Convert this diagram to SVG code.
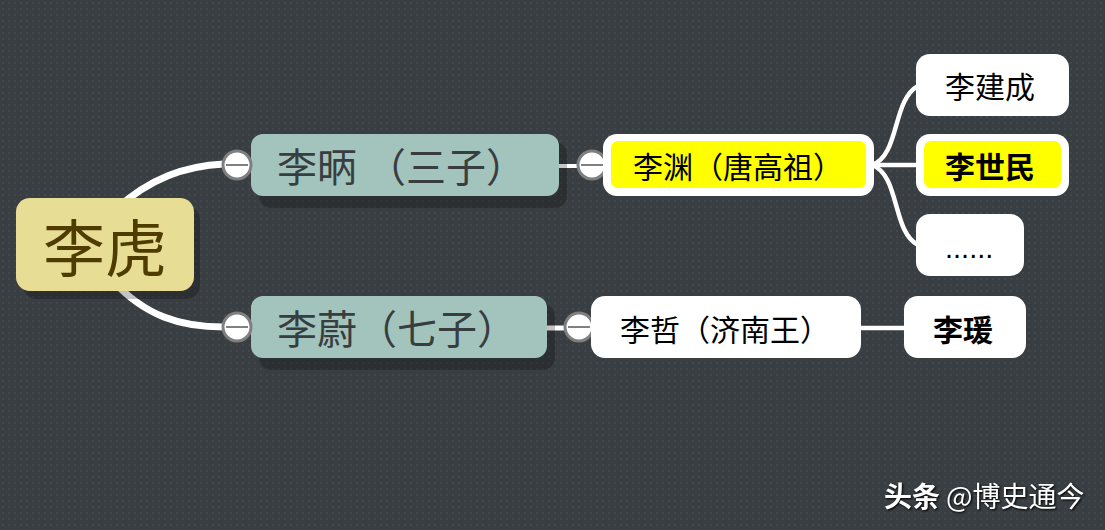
<svg xmlns="http://www.w3.org/2000/svg" width="1105" height="530" viewBox="0 0 1105 530">
<style>
text{font-family:"Noto Sans CJK SC","Noto Sans",sans-serif}
.conn{fill:none;stroke:#fff;stroke-linecap:butt}
.shadow{fill:#000;opacity:.23}
.teal{fill:#a2c4bd}
.white{fill:#fff}
.tt{fill:#383d40;font-size:40px}
.bt{fill:#000;font-size:30px}
.b{font-weight:700}
.cb{fill:#fff;stroke:#7f7f7f;stroke-width:3}
.cl{stroke:#808080;stroke-width:2}
.wm{fill:#fff;font-size:28px;filter:drop-shadow(1px 1px 1px #000)}
</style>
<defs>
<pattern id="dots" width="6" height="6" patternUnits="userSpaceOnUse"><rect width="6" height="6" fill="#383e42"/><rect x="2" y="2" width="2" height="2" fill="#41474b"/></pattern>
<g id="collapse"><circle r="14" class="cb"/><line x1="-11" x2="11" y1="0" y2="0" class="cl"/></g>
</defs>
<rect width="1105" height="530" fill="url(#dots)"/>
<g id="connectors">
<path class="conn" stroke-width="7" d="M115 210C150 178 185 166 224 164"/>
<path class="conn" stroke-width="7" d="M112 280C145 316 180 327 224 327"/>
<path class="conn" stroke-width="4" d="M555 166H582"/>
<path class="conn" stroke-width="5" d="M543 328H570"/>
<path class="conn" stroke-width="4.5" d="M872 165C900 155 892 100 918 86"/>
<path class="conn" stroke-width="4.5" d="M872 165H918"/>
<path class="conn" stroke-width="4.5" d="M872 165C900 175 892 232 918 245"/>
<path class="conn" stroke-width="4.5" d="M858 328H906"/>
</g>
<g id="root">
<rect x="23" y="206" width="177" height="93" rx="14" class="shadow"/>
<rect x="16" y="198" width="178" height="93" rx="14" fill="#e8dd95"/>
<text x="105" y="272" font-size="62" fill="#4f3c00" text-anchor="middle">李虎</text>
</g>
<g id="node-libing">
<rect x="259" y="142" width="308" height="66" rx="12" class="shadow"/>
<rect x="251" y="134" width="308" height="62" rx="12" class="teal"/>
<text x="277" y="182" class="tt" xml:space="preserve">李昞 （三子）</text>
<use href="#collapse" x="237" y="165"/>
</g>
<g id="node-liwei">
<rect x="259" y="304" width="296" height="66" rx="12" class="shadow"/>
<rect x="251" y="296" width="296" height="62" rx="12" class="teal"/>
<text x="277" y="344" class="tt">李蔚（七子）</text>
<use href="#collapse" x="237" y="327"/>
</g>
<g id="node-liyuan">
<use href="#collapse" x="592" y="165"/>
<rect x="603" y="134" width="271" height="62" rx="14" class="white"/>
<rect x="611" y="141" width="255" height="47" rx="7" fill="#ff0"/>
<text x="633" y="178" class="bt">李渊（唐高祖）</text>
</g>
<g id="node-lizhe">
<use href="#collapse" x="579" y="327"/>
<rect x="591" y="296" width="270" height="62" rx="14" class="white"/>
<text x="620" y="341" class="bt">李哲（济南王）</text>
</g>
<g id="node-lijiancheng">
<rect x="916" y="54" width="153" height="62" rx="14" class="white"/>
<text x="945" y="98" class="bt">李建成</text>
</g>
<g id="node-lishimin">
<rect x="916" y="134" width="153" height="62" rx="14" class="white"/>
<rect x="924" y="141" width="137" height="47" rx="7" fill="#ff0"/>
<text x="945" y="178" class="bt b">李世民</text>
</g>
<g id="node-more">
<rect x="916" y="214" width="108" height="62" rx="14" class="white"/>
<text x="945" y="258" font-size="29" fill="#000" style="font-family:'Liberation Sans',sans-serif">......</text>
</g>
<g id="node-liyuan2">
<rect x="904" y="296" width="122" height="62" rx="14" class="white"/>
<text x="933" y="341" class="bt b">李瑗</text>
</g>
<g id="watermark">
<text x="884" y="507" class="wm b">头条</text>
<text x="946" y="507" class="wm">@博史通今</text>
</g>
</svg>
